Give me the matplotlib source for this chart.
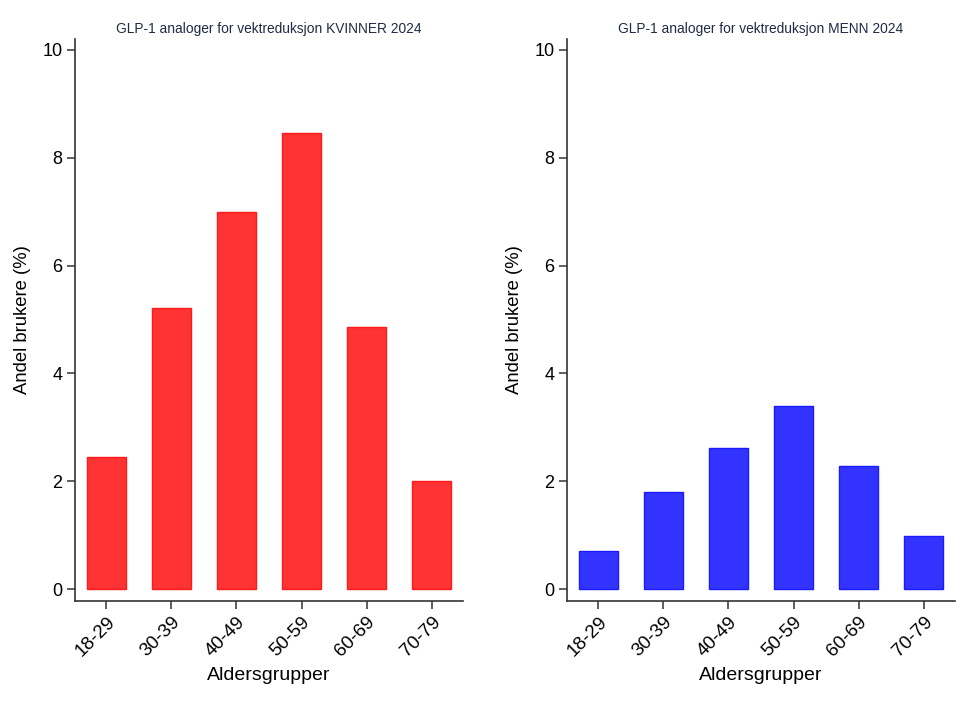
import matplotlib
matplotlib.use("Agg")
import matplotlib.pyplot as plt
import numpy as np

plt.rcParams['font.family'] = ['Liberation Sans', 'DejaVu Sans']

categories = ["18-29", "30-39", "40-49", "50-59", "60-69", "70-79"]
women = [2.45, 5.21, 6.99, 8.46, 4.86, 2.00]
men = [0.71, 1.81, 2.62, 3.40, 2.28, 0.98]
yticks = [0, 2, 4, 6, 8, 10]
titles = ["GLP-1 analoger for vektreduksjon KVINNER 2024",
          "GLP-1 analoger for vektreduksjon MENN 2024"]

fig = plt.figure(figsize=(9.7, 7.02), dpi=100)
W, H = 970, 702
panels = [
    (75, women, "#FF3333", "#FF1A1A"),
    (567, men, "#3333FF", "#1A1AFF"),
]
for (x0, vals, fc, ec), title in zip(panels, titles):
    ax = fig.add_axes([x0 / W, 1 - 601 / H, 388 / W, (601 - 39) / H])
    x = np.arange(len(categories))
    ax.bar(x, vals, width=0.6, color=fc, edgecolor=ec, linewidth=1.0)
    ax.set_xlim(-0.48, 5.48)
    ax.set_ylim(-0.22, 10.2)
    ax.set_yticks(yticks)
    ax.set_yticklabels([str(t) for t in yticks])
    ax.set_xticks(x)
    ax.set_xticklabels(categories, rotation=45, ha='right', rotation_mode='anchor')
    for s in ['top', 'right']:
        ax.spines[s].set_visible(False)
    for s in ['left', 'bottom']:
        ax.spines[s].set_color('#333333')
        ax.spines[s].set_linewidth(1.2)
    ax.tick_params(axis='both', length=6, width=1.1, color='#333333',
                   labelsize=13, labelcolor='black', pad=3)
    ax.tick_params(axis='x', labelsize=13.6)
    ax.set_ylabel("Andel brukere (%)", fontsize=13.3, labelpad=8)
    ax.set_xlabel("Aldersgrupper", fontsize=14, labelpad=5)
    ax.set_title(title, fontsize=9.9, color='#1F2A44', pad=4)

fig.savefig("out.png", dpi=100, facecolor='white')
